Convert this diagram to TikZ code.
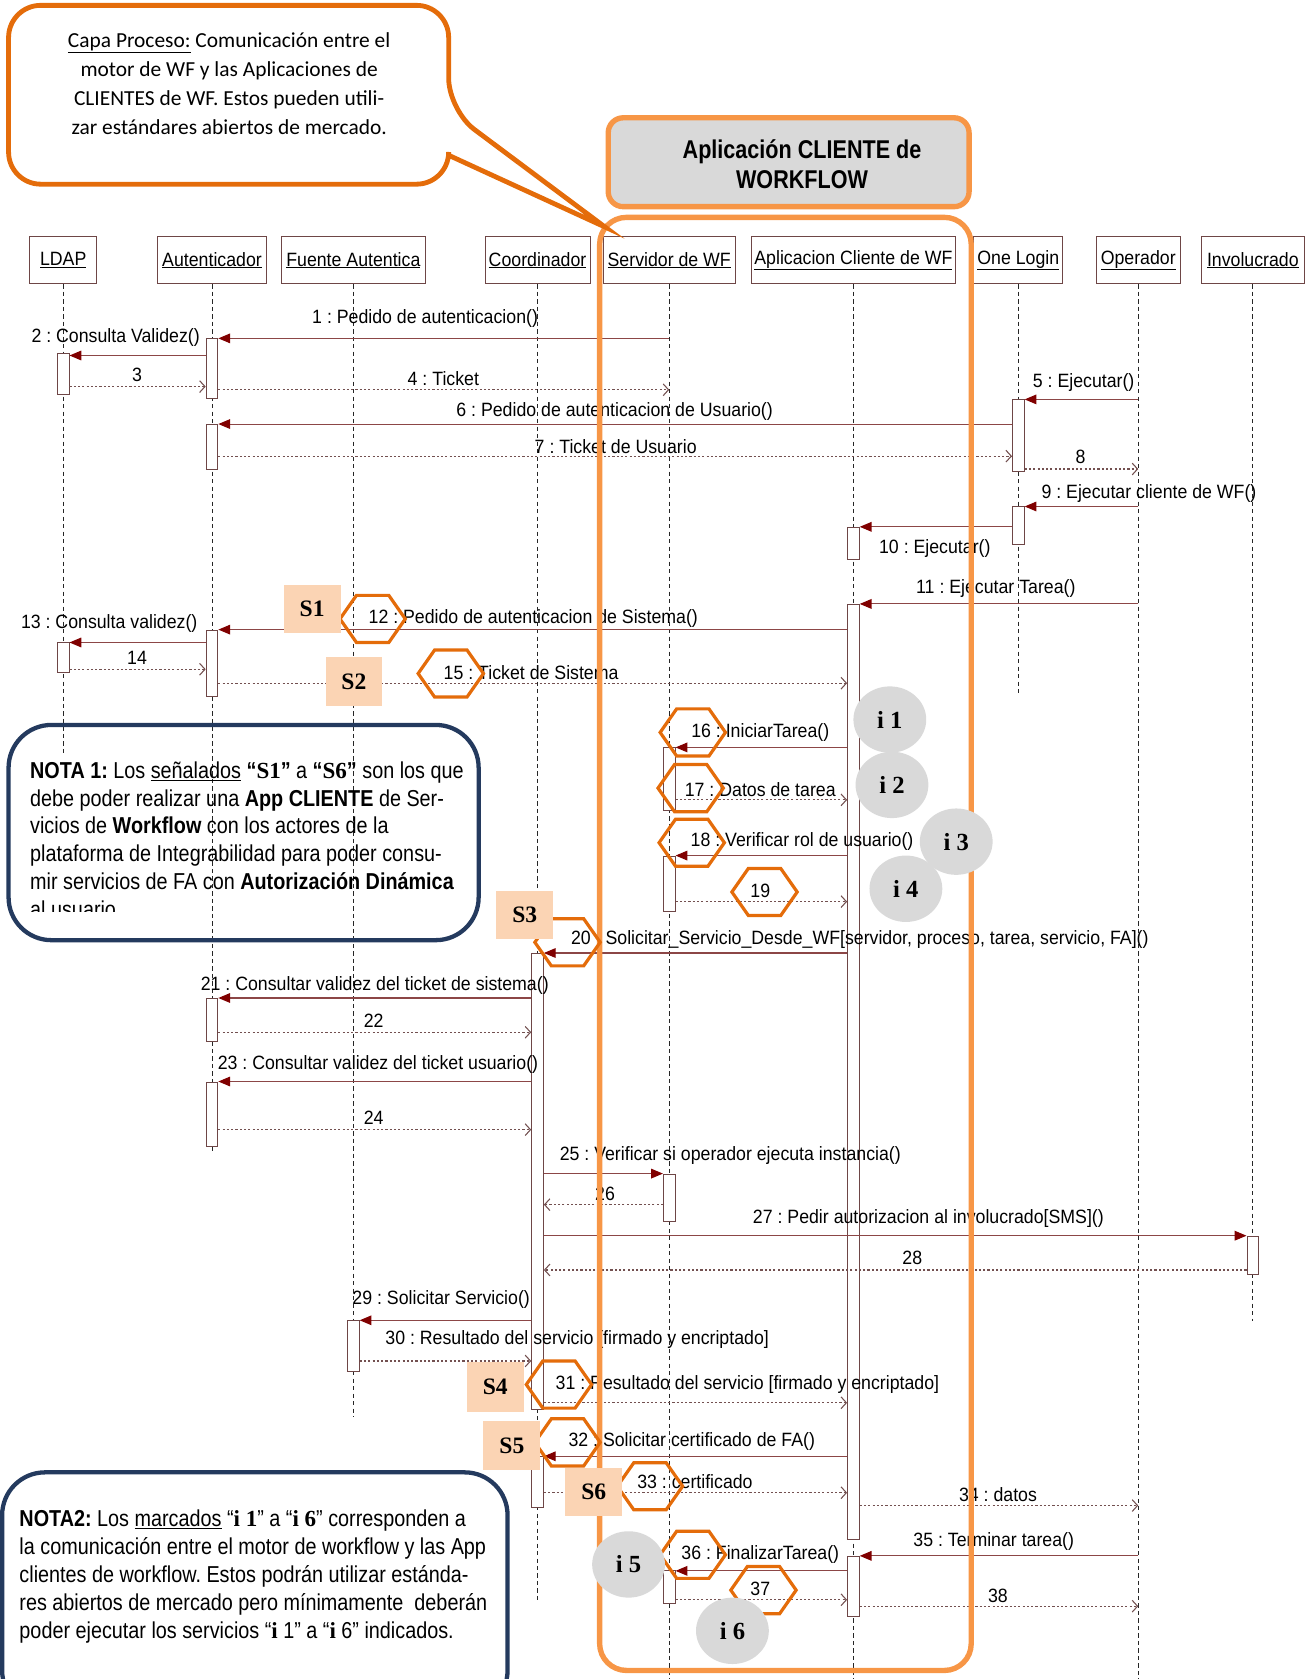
\documentclass[tikz,border=0pt]{standalone}
\usepackage{fontspec}
\setmainfont{Liberation Sans}
\newfontfamily\seqfont[FakeStretch=0.92]{Liberation Sans}
\newfontfamily\notefont[FakeStretch=0.86]{Liberation Sans}
\newfontfamily\hdrfont[FakeStretch=0.84]{Liberation Sans}
\newfontfamily\bubfont{Carlito}
\newfontfamily\markfont{Liberation Serif}
\usetikzlibrary{shapes.geometric,shapes.symbols,arrows.meta,positioning,calc}
\definecolor{orgdark}{RGB}{228,108,10}
\definecolor{orglight}{RGB}{247,150,70}
\definecolor{peach}{RGB}{251,212,180}
\definecolor{igray}{RGB}{217,217,217}
\definecolor{navy}{RGB}{36,58,94}
\definecolor{msgcol}{RGB}{140,70,70}
\definecolor{tipcol}{RGB}{128,0,0}
\definecolor{retcol}{RGB}{115,80,80}
\definecolor{headcol}{RGB}{110,70,70}

\begin{document}
\frenchspacing
\begin{tikzpicture}[x=1pt, y=-1pt,
    head/.style={rectangle, draw=headcol, fill=white, line width=0.9pt, minimum height=44, inner sep=2pt, font=\seqfont\fontsize{18}{20}\selectfont},
    lifeline/.style={black!85, line width=0.8pt, dash pattern=on 4pt off 3pt},
    actbox/.style={rectangle, draw=headcol, fill=white, line width=0.8pt, minimum width=11, inner sep=0pt, anchor=north},
    call/.style={draw=msgcol, line width=1pt, -{Triangle[length=11pt,width=9pt,color=tipcol]}},
    ret/.style={draw=retcol, line width=1pt, dash pattern=on 2pt off 2pt, -{Straight Barb[length=5pt,width=11pt]}},
    lbl/.style={inner sep=0pt, font=\seqfont\fontsize{18}{20}\selectfont},
    hexa/.style={shape=signal, signal to=east and west, signal pointer angle=110, draw=orgdark, line width=3pt, minimum width=61, minimum height=44, inner sep=0pt},
    sbox/.style={rectangle, fill=peach, minimum width=53, minimum height=45, inner sep=0pt, font=\markfont\bfseries\fontsize{22}{22}\selectfont},
    ibub/.style={ellipse, fill=igray, minimum width=68, minimum height=62, inner sep=0pt, font=\markfont\bfseries\fontsize{23}{23}\selectfont},
    notebox/.style={draw=navy, line width=4pt, rounded corners=40},
    notetxt/.style={inner sep=0pt, align=left, font=\notefont\fontsize{21.5}{26}\selectfont},
]
\clip (0,0) rectangle (1224,1568);

% lifeline heads
\node[head, minimum width=63] (ldap) at (59,243) {\underline{LDAP}};
\node[head, minimum width=102] (aut) at (198,243) {\underline{Autenticador}};
\node[head, minimum width=134] (fte) at (330,243) {\underline{Fuente Autentica}};
\node[head, minimum width=98] (coord) at (502,243) {\underline{Coordinador}};
\node[head, minimum width=123] (srv) at (625,243) {\underline{Servidor de WF}};
\node[head, minimum width=190] (app) at (797,243) {\underline{Aplicacion Cliente de WF}};
\node[head, minimum width=83] (onel) at (951,243) {\underline{One Login}};
\node[head, minimum width=78] (oper) at (1063,243) {\underline{Operador}};
\node[head, minimum width=96] (invol) at (1170,243) {\underline{Involucrado}};

\coordinate (ldap-e) at (59,703);
\coordinate (aut-e) at (198,1075);
\coordinate (fte-e) at (330,1323);
\coordinate (coord-e) at (502,1494);
\coordinate (srv-e) at (625,1568);
\coordinate (app-e) at (797,1568);
\coordinate (onel-e) at (951,648);
\coordinate (oper-e) at (1063,1568);
\coordinate (invol-e) at (1170,1234);
\foreach \ll in {ldap,aut,fte,coord,srv,app,onel,oper,invol}
  \draw[lifeline] (\ll) -- (\ll-e);

% activations
\node[actbox, minimum height=38] (ldap-a1) at (59,330) {};
\node[actbox, minimum height=56] (aut-a1) at (198,316) {};
\node[actbox, minimum height=67] (onel-a1) at (951,373) {};
\node[actbox, minimum height=42] (aut-a2) at (198,396) {};
\node[actbox, minimum height=35] (onel-a2) at (951,473) {};
\node[actbox, minimum height=30] (app-a1) at (797,492) {};
\node[actbox, minimum height=873] (app-a2) at (797,564) {};
\node[actbox, minimum height=62] (aut-a3) at (198,588) {};
\node[actbox, minimum height=28] (ldap-a2) at (59,600) {};
\node[actbox, minimum height=58] (srv-a1) at (625,698) {};
\node[actbox, minimum height=52] (srv-a2) at (625,799) {};
\node[actbox, minimum height=426] (coord-a1) at (502,890) {};
\node[actbox, minimum height=40] (aut-a4) at (198,932) {};
\node[actbox, minimum height=60] (aut-a5) at (198,1010) {};
\node[actbox, minimum height=44] (srv-a3) at (625,1096) {};
\node[actbox, minimum height=36] (invol-a1) at (1170,1154) {};
\node[actbox, minimum height=47] (fte-a1) at (330,1233) {};
\node[actbox, minimum height=47] (coord-a2) at (502,1360) {};
\node[actbox, minimum height=56] (app-a3) at (797,1453) {};
\node[actbox, minimum height=31] (srv-a4) at (625,1466) {};

% message rows
\coordinate (y1) at (0,316);   \coordinate (y2) at (0,332);   \coordinate (y3) at (0,361);
\coordinate (y4) at (0,364);   \coordinate (y5) at (0,373);   \coordinate (y6) at (0,396);
\coordinate (y7) at (0,426);   \coordinate (y8) at (0,438);   \coordinate (y9) at (0,473);
\coordinate (y10) at (0,492);  \coordinate (y11) at (0,564);  \coordinate (y12) at (0,588);
\coordinate (y13) at (0,600);  \coordinate (y14) at (0,625);  \coordinate (y15) at (0,638);
\coordinate (y16) at (0,698);  \coordinate (y17) at (0,747);  \coordinate (y18) at (0,799);
\coordinate (y19) at (0,842);  \coordinate (y20) at (0,890);  \coordinate (y21) at (0,932);
\coordinate (y22) at (0,964);  \coordinate (y23) at (0,1010); \coordinate (y24) at (0,1055);
\coordinate (y25) at (0,1096); \coordinate (y26) at (0,1125); \coordinate (y27) at (0,1154);
\coordinate (y28) at (0,1186); \coordinate (y29) at (0,1233); \coordinate (y30) at (0,1271);
\coordinate (y31) at (0,1310); \coordinate (y32) at (0,1360); \coordinate (y33) at (0,1394);
\coordinate (y34) at (0,1406); \coordinate (y35) at (0,1453); \coordinate (y36) at (0,1467);
\coordinate (y37) at (0,1494); \coordinate (y38) at (0,1500);

% messages
\draw[call] (srv |- y1) -- (aut-a1.east |- y1);
\draw[call] (aut-a1.west |- y2) -- (ldap-a1.east |- y2);
\draw[ret] (ldap-a1.east |- y3) -- (aut-a1.west |- y3);
\draw[ret] (aut-a1.east |- y4) -- (srv |- y4);
\draw[call] (oper |- y5) -- (onel-a1.east |- y5);
\draw[call] (onel-a1.west |- y6) -- (aut-a2.east |- y6);
\draw[ret] (aut-a2.east |- y7) -- (onel-a1.west |- y7);
\draw[ret] (onel-a1.east |- y8) -- (oper |- y8);
\draw[call] (oper |- y9) -- (onel-a2.east |- y9);
\draw[call] (onel-a2.west |- y10) -- (app-a1.east |- y10);
\draw[call] (oper |- y11) -- (app-a2.east |- y11);
\draw[call] (app-a2.west |- y12) -- (aut-a3.east |- y12);
\draw[call] (aut-a3.west |- y13) -- (ldap-a2.east |- y13);
\draw[ret] (ldap-a2.east |- y14) -- (aut-a3.west |- y14);
\draw[ret] (aut-a3.east |- y15) -- (app-a2.west |- y15);
\draw[call] (app-a2.west |- y16) -- (srv-a1.east |- y16);
\draw[ret] (srv-a1.east |- y17) -- (app-a2.west |- y17);
\draw[call] (app-a2.west |- y18) -- (srv-a2.east |- y18);
\draw[ret] (srv-a2.east |- y19) -- (app-a2.west |- y19);
\draw[call] (app-a2.west |- y20) -- (coord-a1.east |- y20);
\draw[call] (coord-a1.west |- y21) -- (aut-a4.east |- y21);
\draw[ret] (aut-a4.east |- y22) -- (coord-a1.west |- y22);
\draw[call] (coord-a1.west |- y23) -- (aut-a5.east |- y23);
\draw[ret] (aut-a5.east |- y24) -- (coord-a1.west |- y24);
\draw[call] (coord-a1.east |- y25) -- (srv-a3.west |- y25);
\draw[ret] (srv-a3.west |- y26) -- (coord-a1.east |- y26);
\draw[call] (coord-a1.east |- y27) -- (invol-a1.west |- y27);
\draw[ret] (invol-a1.west |- y28) -- (coord-a1.east |- y28);
\draw[call] (coord-a1.west |- y29) -- (fte-a1.east |- y29);
\draw[ret] (fte-a1.east |- y30) -- (coord-a1.west |- y30);
\draw[ret] (coord-a1.east |- y31) -- (app-a2.west |- y31);
\draw[call] (app-a2.west |- y32) -- (coord-a2.east |- y32);
\draw[ret] (coord-a2.east |- y33) -- (app-a2.west |- y33);
\draw[ret] (app-a2.east |- y34) -- (oper |- y34);
\draw[call] (oper |- y35) -- (app-a3.east |- y35);
\draw[call] (app-a3.west |- y36) -- (srv-a4.east |- y36);
\draw[ret] (srv-a4.east |- y37) -- (app-a3.west |- y37);
\draw[ret] (app-a3.east |- y38) -- (oper |- y38);

% message labels
\node[lbl] (l1) at (397,297) {1 : Pedido de autenticacion()};
\node[lbl] (l2) at (108,315) {2 : Consulta Validez()};
\node[lbl] (l3) at (128,350) {3};
\node[lbl] (l4) at (414,354) {4 : Ticket};
\node[lbl] (l5) at (1012,357) {5 : Ejecutar()};
\node[lbl] (l6) at (574,384) {6 : Pedido de autenticacion de Usuario()};
\node[lbl] (l7) at (575,417) {7 : Ticket de Usuario};
\node[lbl] (l8) at (1009,427) {8};
\node[lbl] (l9) at (1073,461) {9 : Ejecutar cliente de WF()};
\node[lbl] (l10) at (873,512) {10 : Ejecutar()};
\node[lbl] (l11) at (930,550) {11 : Ejecutar Tarea()};
\node[lbl] (l12) at (498,578) {12 : Pedido de autenticacion de Sistema()};
\node[lbl] (l13) at (102,582) {13 : Consulta validez()};
\node[lbl] (l14) at (128,614) {14};
\node[lbl] (l15) at (496,628) {15 : Ticket de Sistema};
\node[lbl] (l16) at (710,684) {16 : IniciarTarea()};
\node[lbl] (l17) at (710,737) {17 : Datos de tarea};
\node[lbl] (l18) at (749,786) {18 : Verificar rol de usuario()};
\node[lbl] (l19) at (710,832) {19};
\node[lbl] (l20) at (803,877) {20 : Solicitar\_Servicio\_Desde\_WF[servidor, proceso, tarea, servicio, FA]()};
\node[lbl] (l21) at (350,920) {21 : Consultar validez del ticket de sistema()};
\node[lbl] (l22) at (349,953) {22};
\node[lbl] (l23) at (353,994) {23 : Consultar validez del ticket usuario()};
\node[lbl] (l24) at (349,1044) {24};
\node[lbl] (l25) at (682,1079) {25 : Verificar si operador ejecuta instancia()};
\node[lbl] (l26) at (565,1115) {26};
\node[lbl] (l27) at (867,1138) {27 : Pedir autorizacion al involucrado[SMS]()};
\node[lbl] (l28) at (852,1175) {28};
\node[lbl] (l29) at (412,1214) {29 : Solicitar Servicio()};
\node[lbl] (l30) at (539,1251) {30 : Resultado del servicio [firmado y encriptado]};
\node[lbl] (l31) at (698,1293) {31 : Resultado del servicio [firmado y encriptado]};
\node[lbl] (l32) at (646,1346) {32 : Solicitar certificado de FA()};
\node[lbl] (l33) at (649,1384) {33 : certificado};
\node[lbl] (l34) at (932,1396) {34 : datos};
\node[lbl] (l35) at (928,1440) {35 : Terminar tarea()};
\node[lbl] (l36) at (710,1452) {36 : FinalizarTarea()};
\node[lbl] (l37) at (710,1484) {37};
\node[lbl] (l38) at (932,1490) {38};

% client application frame and header
\draw[orglight, line width=5pt, rounded corners=25] (560,203) rectangle (907,1560);
\draw[orglight, fill=igray, line width=5pt, rounded corners=14] (568,110) rectangle (905,193);
\node[inner sep=0pt, align=center, font=\hdrfont\bfseries\fontsize{24}{28}\selectfont] (hdr) at (749,153) {Aplicación CLIENTE de\\WORKFLOW};

% hexagons
\node[hexa] (hx12) at (348,578) {};
\node[hexa] (hx15) at (421,629) {};
\node[hexa] (hx16) at (647,684) {};
\node[hexa] (hx17) at (645,736) {};
\node[hexa] (hx18) at (646,787) {};
\node[hexa] (hx19) at (714,833) {};
\node[hexa] (hx20) at (530,880) {};
\node[hexa] (hx31) at (522,1293) {};
\node[hexa] (hx32) at (530,1347) {};
\node[hexa] (hx33) at (607,1388) {};
\node[hexa] (hx36) at (647,1452) {};
\node[hexa] (hx37) at (713,1485) {};

% S marks
\node[sbox] (s1) at (291.5,568.5) {S1};
\node[sbox] (s2) at (330.5,636.5) {S2};
\node[sbox] (s3) at (490,854.5) {S3};
\node[sbox, minimum height=47] (s4) at (462.5,1295.5) {S4};
\node[sbox, minimum height=46] (s5) at (478,1350) {S5};
\node[sbox] (s6) at (554.5,1393.5) {S6};

% i marks
\node[ibub] (i1) at (831,672) {i 1};
\node[ibub] (i2) at (833,733) {i 2};
\node[ibub] (i3) at (893,786) {i 3};
\node[ibub] (i4) at (846,830) {i 4};
\node[ibub] (i5) at (587,1461) {i 5};
\node[ibub] (i6) at (684,1523) {i 6};

% callout
\draw[orgdark, fill=white, line width=4.5pt, line join=miter]
  (419,145) [rounded corners=30] -- (419,172) -- (8,172) -- (8,5) -- (419,5) -- (419,103)
  [sharp corners] -- (565,212) -- cycle;
\node[inner sep=0pt, align=center, font=\bubfont\fontsize{20}{27}\selectfont] (capa) at (214,78)
  {\underline{Capa Proceso:} Comunicación entre el\\motor de WF y las Aplicaciones de\\CLIENTES de WF. Estos pueden utili-\\zar estándares abiertos de mercado.};

% notes
\draw[notebox] (8,677) rectangle (447,878);
\begin{scope}
\clip (8,677) rectangle (447,851);
\node[notetxt, anchor=north west] (nota1) at (28,711)
  {{\bfseries NOTA 1:} Los \underline{señalados} {\bfseries “{\markfont S1}”} a {\bfseries “{\markfont S6}”} son los que\\
   debe poder realizar una {\bfseries App CLIENTE} de Ser-\\
   vicios de {\bfseries Workflow} con los actores de la\\
   plataforma de Integrabilidad para poder consu-\\
   mir servicios de FA con {\bfseries Autorización Dinámica}\\
   al usuario};
\end{scope}
\draw[notebox] (2,1375) rectangle (474,1600);
\node[notetxt, anchor=north west] (nota2) at (18,1410)
  {{\bfseries NOTA2:} Los \underline{marcados} “{\markfont\bfseries i 1}” a “{\markfont\bfseries i 6}” corresponden a\\
   la comunicación entre el motor de workflow y las App\\
   clientes de workflow. Estos podrán utilizar estánda-\\
   res abiertos de mercado pero mínimamente\ \ deberán\\
   poder ejecutar los servicios “{\markfont\bfseries i} 1” a “{\markfont\bfseries i} 6” indicados.};
\end{tikzpicture}
\end{document}
